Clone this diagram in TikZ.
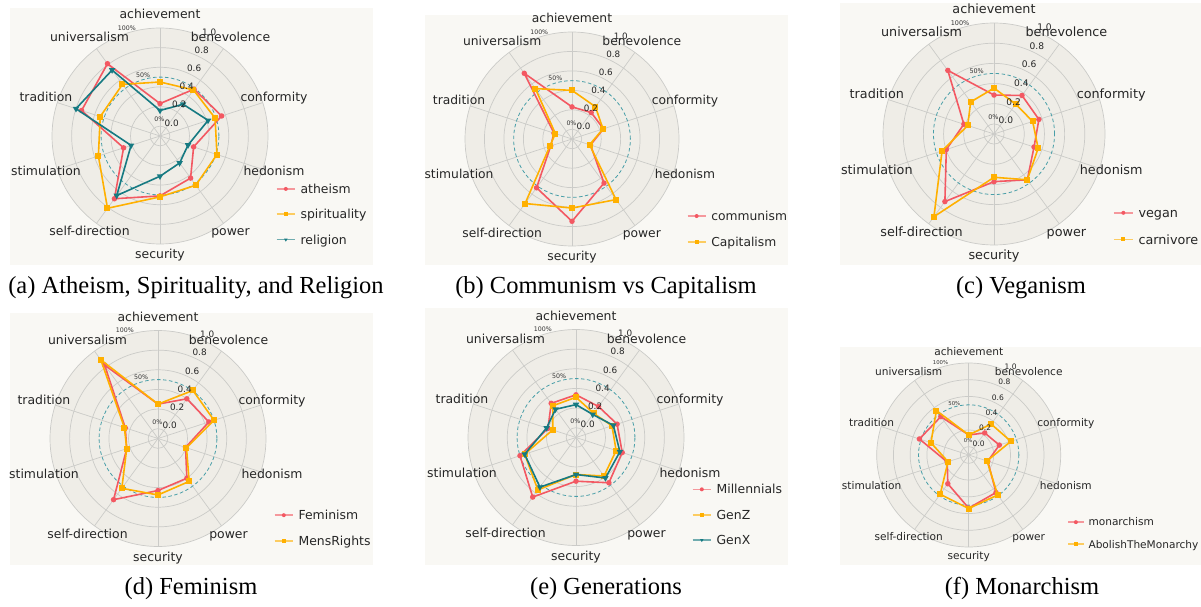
\documentclass[tikz,border=0pt]{standalone}
\usepackage{fontspec}
\setmainfont{Liberation Serif}
\newfontfamily\plotfont{DejaVu Sans}
\usepackage{tikz}
\usetikzlibrary{shapes.geometric}

\definecolor{figbg}{RGB}{249, 248, 244}
\definecolor{diskbg}{RGB}{239, 237, 231}
\definecolor{gridgray}{RGB}{203, 203, 200}
\definecolor{serred}{RGB}{243, 88, 98}
\definecolor{seryellow}{RGB}{255, 176, 0}
\definecolor{serteal}{RGB}{22, 122, 130}
\definecolor{halfteal}{RGB}{72, 158, 168}

\tikzset{
  gridline/.style={draw=gridgray, line width=0.7pt},
  halfline/.style={draw=halfteal, line width=0.8pt, dash pattern=on 3.5pt off 2.5pt},
  axlabel/.style={text=black!85, inner sep=0pt, text height=0.75em, text depth=0.22em},
  serline/.style={draw=#1, line width=1.6pt, line join=round},
  dotmark/.style={circle, fill=#1, inner sep=0pt, minimum size=5.5pt},
  boxmark/.style={rectangle, fill=#1, inner sep=0pt, minimum size=6pt},
  trimark/.style={regular polygon, regular polygon sides=3, shape border rotate=180, fill=#1, inner sep=0pt, minimum size=7.5pt},
  caption/.style={anchor=base, inner sep=0pt, font=\fontsize{24.5}{29}\selectfont},
}

% grid, rings and axis names of one radar chart: #1 outer radius, #2 prefix
\newcommand{\radarbase}[2]{%
  \pgfmathsetmacro\labsz{0.115*#1}%
  \pgfmathsetmacro\ticksz{0.082*#1}%
  \pgfmathsetmacro\pctsz{0.058*#1}%
  \fill[diskbg] (0,0) circle (#1);
  \foreach \r in {0,0.2,0.4,0.6,0.8}
    \draw[gridline] (0,0) circle ({(\r+0.1)/1.1*#1});
  \foreach \k in {0,...,9}
    \draw[gridline] (0,0) -- ({90-36*\k}:#1);
  \draw[gridline] (0,0) circle (#1);
  \draw[halfline] (0,0) circle ({0.6/1.1*#1});
  \foreach \t [count=\k from 0] in {achievement,benevolence,conformity,hedonism,power,security,self-direction,stimulation,tradition,universalism}
    \node[axlabel, font=\plotfont\fontsize{\labsz}{\labsz}\selectfont] (#2-ax\k) at ({90-36*\k}:{1.11*#1}) {\t};
}

% radial tick labels: #1 outer radius, #2 prefix
\newcommand{\radarticks}[2]{%
  \foreach \v [count=\k] in {0.0,0.2,0.4,0.6,0.8,1.0}
    \node[anchor=south west, inner sep=0.6pt, text=black!85, font=\plotfont\fontsize{\ticksz}{\ticksz}\selectfont] (#2-tk\k) at (67.5:{(\v+0.1)/1.1*#1}) {\v};
  \node[text=black!80, inner sep=0pt, font=\plotfont\fontsize{\pctsz}{\pctsz}\selectfont] (#2-p0) at (92:{0.152*#1}) {0\%};
  \node[text=black!80, inner sep=0pt, font=\plotfont\fontsize{\pctsz}{\pctsz}\selectfont] (#2-p50) at (105.5:{0.585*#1}) {50\%};
  \node[text=black!80, inner sep=0pt, font=\plotfont\fontsize{\pctsz}{\pctsz}\selectfont] (#2-p100) at (107:{1.047*#1}) {100\%};
}

% one closed series: #1 outer radius, #2 colour, #3 marker style, #4 ten values
\newcommand{\drawseries}[4]{%
  \foreach \v [count=\k from 0] in {#4}
    \coordinate (pt\k) at ({90-36*\k}:{(\v+0.1)/1.1*#1});
  \draw[serline=#2] (pt0) -- (pt1) -- (pt2) -- (pt3) -- (pt4) -- (pt5) -- (pt6) -- (pt7) -- (pt8) -- (pt9) -- cycle;
  \foreach \k in {0,...,9}
    \node[#3=#2] (mk\k) at (pt\k) {};
}

% legend row: #1 outer radius, #2 depth below centre (times radius), #3 colour, #4 marker, #5 text, #6 name
\newcommand{\legendrow}[6]{%
  \draw[serline=#3, opacity=0.6] ({1.08*#1},{-#2*#1}) -- ({1.25*#1},{-#2*#1});
  \node[#4=#3, minimum size=4pt] (#6-m) at ({1.165*#1},{-#2*#1}) {};
  \node[anchor=base west, inner sep=0pt, text=black!85, font=\plotfont\fontsize{\labsz}{\labsz}\selectfont] (#6) at ({1.30*#1},{-#2*#1-0.36*\labsz}) {#5};
}

\begin{document}
\begin{tikzpicture}[x=1pt, y=1pt]
  \useasboundingbox (0,0) rectangle (1201,606);
  \fill[white] (0,0) rectangle (1201,606);

  % (a) Atheism, Spirituality, and Religion
  \fill[figbg] (10,341) rectangle (373,598);
  \begin{scope}[shift={(160,470)}]
    \radarbase{108}{a}
    \drawseries{108}{serred}{dotmark}{0.23,0.49,0.56,0.26,0.43,0.51,0.69,0.29,0.74,0.81}
    \drawseries{108}{seryellow}{boxmark}{0.45,0.48,0.49,0.51,0.52,0.52,0.81,0.56,0.54,0.55}
    \drawseries{108}{serteal}{trimark}{0.16,0.30,0.415,0.20,0.24,0.31,0.65,0.21,0.80,0.73}
    \radarticks{108}{a}
    \legendrow{108}{0.49}{serred}{dotmark}{atheism}{a-l1}
    \legendrow{108}{0.72}{seryellow}{boxmark}{spirituality}{a-l2}
    \legendrow{108}{0.96}{serteal}{trimark}{religion}{a-l3}
  \end{scope}
  \node[caption] (a-cap) at (196,313) {(a) Atheism, Spirituality, and Religion};

  % (b) Communism vs Capitalism
  \fill[figbg] (425,341) rectangle (788,591);
  \begin{scope}[shift={(572,467)}]
    \radarbase{107}{b}
    \drawseries{107}{serred}{dotmark}{0.23,0.236,0.24,0.10,0.46,0.746,0.52,0.13,0.095,0.735}
    \drawseries{107}{seryellow}{boxmark}{0.40,0.31,0.235,0.09,0.67,0.61,0.72,0.14,0.08,0.54}
    \radarticks{107}{b}
    \legendrow{107}{0.72}{serred}{dotmark}{communism}{b-l1}
    \legendrow{107}{0.96}{seryellow}{boxmark}{Capitalism}{b-l2}
  \end{scope}
  \node[caption] (b-cap) at (606,313) {(b) Communism vs Capitalism};

  % (c) Veganism
  \fill[figbg] (840,341) rectangle (1201,603);
  \begin{scope}[shift={(994,472)}]
    \radarbase{111}{c}
    \drawseries{111}{serred}{dotmark}{0.286,0.372,0.368,0.317,0.461,0.372,0.728,0.397,0.214,0.679}
    \drawseries{111}{seryellow}{boxmark}{0.355,0.266,0.303,0.36,0.461,0.329,0.913,0.441,0.174,0.293}
    \radarticks{111}{c}
    \legendrow{111}{0.71}{serred}{dotmark}{vegan}{c-l1}
    \legendrow{111}{0.95}{seryellow}{boxmark}{carnivore}{c-l2}
  \end{scope}
  \node[caption] (c-cap) at (1021,313) {(c) Veganism};

  % (d) Feminism
  \fill[figbg] (10,41) rectangle (373,293);
  \begin{scope}[shift={(158,167.5)}]
    \radarbase{108}{d}
    \drawseries{108}{serred}{dotmark}{0.25,0.40,0.445,0.195,0.40,0.43,0.67,0.235,0.25,0.825}
    \drawseries{108}{seryellow}{boxmark}{0.25,0.505,0.50,0.205,0.44,0.475,0.527,0.235,0.26,0.89}
    \radarticks{108}{d}
    \legendrow{108}{0.71}{serred}{dotmark}{Feminism}{d-l1}
    \legendrow{108}{0.95}{seryellow}{boxmark}{MensRights}{d-l2}
  \end{scope}
  \node[caption] (d-cap) at (191,12) {(d) Feminism};

  % (e) Generations
  \fill[figbg] (425,41) rectangle (788,298);
  \begin{scope}[shift={(576,168.5)}]
    \radarbase{108}{e}
    \drawseries{108}{serred}{dotmark}{0.335,0.29,0.34,0.395,0.47,0.345,0.65,0.50,0.20,0.33}
    \drawseries{108}{seryellow}{boxmark}{0.31,0.205,0.285,0.33,0.385,0.277,0.56,0.45,0.15,0.30}
    \drawseries{108}{serteal}{trimark}{0.235,0.19,0.30,0.37,0.41,0.277,0.525,0.45,0.215,0.255}
    \radarticks{108}{e}
    \legendrow{108}{0.48}{serred}{dotmark}{Millennials}{e-l1}
    \legendrow{108}{0.72}{seryellow}{boxmark}{GenZ}{e-l2}
    \legendrow{108}{0.95}{serteal}{trimark}{GenX}{e-l3}
  \end{scope}
  \node[caption] (e-cap) at (606,12) {(e) Generations};

  % (f) Monarchism
  \fill[figbg] (840,41) rectangle (1201,259);
  \begin{scope}[shift={(968.7,151)}]
    \radarbase{92}{f}
    \drawseries{92}{serred}{dotmark}{0.14,0.226,0.285,0.14,0.455,0.535,0.325,0.17,0.52,0.467}
    \drawseries{92}{seryellow}{boxmark}{0.14,0.357,0.43,0.13,0.49,0.54,0.48,0.16,0.375,0.557}
    \radarticks{92}{f}
    \legendrow{92}{0.73}{serred}{dotmark}{monarchism}{f-l1}
    \legendrow{92}{0.97}{seryellow}{boxmark}{AbolishTheMonarchy}{f-l2}
  \end{scope}
  \node[caption] (f-cap) at (1022,12) {(f) Monarchism};
\end{tikzpicture}
\end{document}
